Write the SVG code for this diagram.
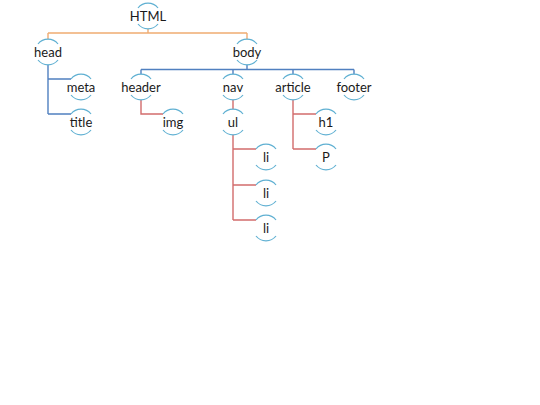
<svg xmlns="http://www.w3.org/2000/svg" xmlns:xlink="http://www.w3.org/1999/xlink" width="540" height="405" viewBox="0 0 540 405">
<style>
.arc{fill:none;stroke:#5FB0D2;stroke-width:1.2}
.lbl{font-family:Lato,"Open Sans","Liberation Sans",sans-serif;font-size:13px;fill:#1a1a1a;text-anchor:middle;dominant-baseline:central}
.c{fill:none;stroke-width:1.4}
.o{stroke:#F0AC72}
.b{stroke:#5080C0}
.r{stroke:#D26C6C}
</style>
<defs>
<path id="arcs" class="arc" d="M-10,-8 A12.8,12.8 0 0 1 10,-8 M-10,8 A12.8,12.8 0 0 0 10,8"/>
</defs>
<rect width="540" height="405" fill="#ffffff"/>
<g id="connectors">
<path class="c o" d="M148,28.8 V33 M48,33 H247 M48,33 V39.2 M247,33 V39.2"/>
<path class="c b" d="M247,64.8 V69.5 M141,69.5 H354 M141,69.5 V74.2 M233,69.5 V74.2 M293,69.5 V74.2 M354,69.5 V74.2"/>
<path class="c b" d="M48,64.8 V114 M48,79 H71 M48,114 H71"/>
<path class="c r" d="M141,99.8 V114 H163"/>
<path class="c r" d="M233,99.8 V109.2"/>
<path class="c r" d="M233,134.8 V220 M233,149 H256 M233,185 H256 M233,220 H256"/>
<path class="c r" d="M293,99.8 V149 M293,114 H316 M293,149 H316"/>
</g>
<g id="n-html" transform="translate(148,16)"><use xlink:href="#arcs"/><text class="lbl">HTML</text></g>
<g id="n-head" transform="translate(48,52)"><use xlink:href="#arcs"/><text class="lbl">head</text></g>
<g id="n-body" transform="translate(247,52)"><use xlink:href="#arcs"/><text class="lbl">body</text></g>
<g id="n-meta" transform="translate(81,87)"><use xlink:href="#arcs"/><text class="lbl">meta</text></g>
<g id="n-title" transform="translate(81,122)"><use xlink:href="#arcs"/><text class="lbl">title</text></g>
<g id="n-header" transform="translate(141,87)"><use xlink:href="#arcs"/><text class="lbl">header</text></g>
<g id="n-img" transform="translate(173,122)"><use xlink:href="#arcs"/><text class="lbl">img</text></g>
<g id="n-nav" transform="translate(233,87)"><use xlink:href="#arcs"/><text class="lbl">nav</text></g>
<g id="n-ul" transform="translate(233,122)"><use xlink:href="#arcs"/><text class="lbl">ul</text></g>
<g id="n-li1" transform="translate(266,157)"><use xlink:href="#arcs"/><text class="lbl">li</text></g>
<g id="n-li2" transform="translate(266,193)"><use xlink:href="#arcs"/><text class="lbl">li</text></g>
<g id="n-li3" transform="translate(266,228)"><use xlink:href="#arcs"/><text class="lbl">li</text></g>
<g id="n-article" transform="translate(293,87)"><use xlink:href="#arcs"/><text class="lbl">article</text></g>
<g id="n-h1" transform="translate(326,122)"><use xlink:href="#arcs"/><text class="lbl">h1</text></g>
<g id="n-p" transform="translate(326,157)"><use xlink:href="#arcs"/><text class="lbl">P</text></g>
<g id="n-footer" transform="translate(354,87)"><use xlink:href="#arcs"/><text class="lbl">footer</text></g>
</svg>
